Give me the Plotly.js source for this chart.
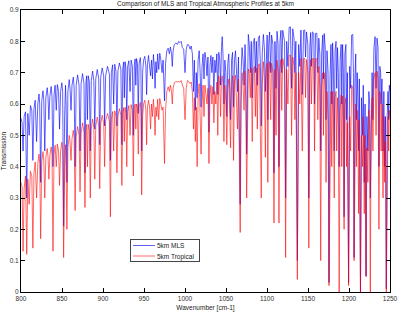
<!DOCTYPE html>
<html>
<head>
<meta charset="utf-8">
<script src="https://cdn.plot.ly/plotly-3.0.1.min.js"></script>
<style>
  html, body { margin: 0; padding: 0; background: #ffffff; }
  #chart { width: 399px; height: 314px; }
</style>
</head>
<body>
<div id="chart"></div>
<script>
// Spectral grid (cm-1) shared by both transmission curves
const wavenumber = [
  800.0, 801.3, 802.5, 803.8, 805.5, 807.0, 808.3, 810.0, 811.5, 813.2,
  814.5, 815.8, 817.3, 819.0, 820.5, 822.0, 822.8, 824.0, 825.3, 826.8,
  827.8, 829.0, 830.3, 832.0, 833.0, 834.0, 835.2, 836.8, 837.8, 839.0,
  840.3, 841.6, 843.0, 844.3, 845.8, 847.0, 848.3, 849.8, 850.8, 852.0,
  853.2, 854.3, 855.0, 856.0, 857.2, 858.8, 859.8, 861.0, 862.2, 863.8,
  864.8, 866.0, 867.3, 869.0, 870.8, 872.0, 873.3, 875.0, 876.8, 878.0,
  879.2, 880.1, 881.0, 882.0, 883.4, 884.5, 885.7, 887.3, 888.8, 890.0,
  891.2, 893.0, 894.8, 896.0, 897.2, 899.0, 900.8, 902.0, 903.2, 905.5,
  907.8, 909.0, 910.2, 911.7, 913.0, 914.3, 915.8, 917.0, 918.2, 920.0,
  921.8, 923.0, 924.2, 925.2, 926.0, 926.9, 927.9, 929.0, 930.1, 931.5,
  933.0, 934.3, 935.8, 937.0, 938.2, 939.2, 940.0, 940.9, 942.0, 943.0,
  944.1, 945.5, 946.2, 947.2, 948.3,
  949.5, 951.0, 952.3, 953.2, 954.2, 955.5, 956.8, 958.0, 959.2, 960.3,
  961.5, 962.6, 963.5, 964.5, 965.6, 966.6, 968.0, 969.2, 970.6, 972.0,
  973.3, 975.0, 976.3, 977.8, 979.5, 981.0, 982.2, 983.6, 984.5, 985.5,
  987.0, 989.0, 990.8, 992.2, 993.8, 995.3, 996.8, 998.4, 1000.0, 1001.5,
  1003.0, 1004.6, 1006.2, 1007.6, 1009.0, 1010.3, 1011.4, 1012.6, 1013.8, 1014.8,
  1016.0, 1017.3, 1018.5, 1019.6, 1020.8, 1022.0, 1023.2, 1024.3, 1025.6, 1026.8,
  1028.0, 1029.2, 1030.4, 1031.6, 1032.8, 1034.0, 1035.2, 1036.4, 1037.6, 1038.8,
  1040.0, 1041.2, 1042.4, 1043.4, 1044.5, 1045.4, 1046.3, 1047.5, 1048.6, 1049.8,
  1051.0, 1052.2, 1053.4, 1054.6, 1055.6, 1056.8, 1058.0, 1059.2, 1060.4, 1061.6,
  1062.8, 1064.0, 1065.2, 1066.2, 1067.3, 1068.4, 1069.6, 1070.8, 1072.0, 1073.2,
  1074.2, 1075.2, 1076.3, 1077.2, 1078.4, 1079.6, 1080.8, 1082.0, 1083.2, 1084.6,
  1085.8, 1087.0, 1088.2, 1089.4, 1090.8, 1092.0, 1093.0, 1094.2, 1095.6, 1096.8,
  1098.0, 1099.2,
  1100.2, 1101.0, 1102.0, 1103.2, 1104.5, 1105.6, 1107.2, 1108.5, 1109.7, 1111.0,
  1112.2, 1113.5, 1114.6, 1115.8, 1117.0, 1118.0, 1119.2, 1121.4, 1122.7, 1124.0,
  1125.5, 1127.0, 1128.6, 1130.0, 1131.4, 1133.0, 1134.0, 1135.2, 1137.0, 1138.6,
  1140.0, 1141.4, 1143.0, 1144.6, 1146.0, 1147.0, 1148.2, 1149.8, 1151.0, 1152.2,
  1153.2, 1154.2, 1155.4, 1157.0, 1158.0, 1159.2, 1160.8, 1162.0, 1163.2, 1164.4,
  1165.5, 1166.6, 1168.0, 1168.8, 1169.8, 1171.0, 1172.0, 1173.2, 1174.5, 1175.6,
  1176.8, 1178.0, 1179.0, 1180.0, 1181.0, 1182.0, 1183.0, 1184.2, 1185.0, 1186.0,
  1187.0, 1188.0, 1189.2, 1190.4, 1191.2, 1192.2, 1193.2, 1194.0, 1195.0, 1196.2,
  1197.0, 1198.0, 1199.5, 1200.8, 1202.0, 1203.2, 1204.6, 1205.4, 1206.2, 1207.2,
  1208.2, 1209.0, 1210.0, 1211.0, 1211.7, 1212.6, 1214.0, 1215.2, 1216.4, 1217.4,
  1218.6, 1219.6, 1220.8, 1221.8, 1223.0, 1224.2, 1225.2, 1226.0, 1227.0, 1228.2,
  1229.2, 1230.4, 1231.8, 1233.0, 1234.2, 1235.4, 1236.5, 1237.6, 1238.6, 1239.2,
  1240.2, 1241.5, 1242.5, 1243.5, 1244.5, 1245.5, 1246.6, 1247.6, 1248.4, 1249.2,
  1250.0
];

// Transmission at 5 km, mid-latitude summer profile
const mls5km = [
  .555,.540,.450,.560,.575,.300,.570,.500,.595,.580,
  .420,.585,.612,.480,.600,.632,.600,.350,.610,.642,
  .610,.450,.620,.652,.620,.550,.625,.656,.625,.400,
  .630,.660,.580,.662,.640,.520,.640,.668,.640,.210,
  .560,.660,.600,.350,.640,.678,.650,.580,.660,.686,
  .650,.400,.660,.693,.660,.450,.665,.697,.665,.380,
  .670,.690,.550,.690,.670,.450,.675,.705,.675,.520,
  .680,.710,.680,.470,.685,.715,.690,.530,.690,.720,
  .695,.420,.700,.725,.600,.727,.705,.530,.705,.731,
  .710,.470,.715,.734,.620,.735,.715,.550,.720,.738,
  .640,.740,.720,.500,.725,.744,.660,.745,.730,.570,
  .730,.748,.720,.450,.700,
  .740,.752,.720,.630,.725,.755,.730,.690,.740,.680,
  .758,.720,.650,.735,.700,.760,.710,.762,.740,.700,
  .740,.610,.730,.770,.778,.760,.782,.760,.720,.770,
  .790,.795,.790,.800,.796,.800,.780,.775,.700,.775,
  .790,.788,.775,.785,.760,.640,.740,.580,.700,.620,
  .740,.770,.700,.590,.720,.760,.680,.765,.740,.690,
  .750,.510,.720,.755,.700,.750,.630,.740,.700,.760,
  .630,.765,.740,.660,.780,.815,.760,.600,.740,.700,
  .560,.730,.760,.650,.550,.740,.765,.590,.740,.770,
  .700,.640,.750,.560,.280,.700,.780,.740,.660,.790,
  .700,.440,.760,.822,.790,.700,.800,.620,.790,.810,
  .700,.800,.660,.810,.818,.720,.530,.760,.822,.780,
  .640,.800,
  .820,.550,.790,.830,.700,.820,.790,.380,.800,.650,
  .832,.790,.400,.800,.835,.700,.835,.800,.300,.800,
  .720,.845,.846,.650,.840,.810,.700,.800,.100,.790,
  .720,.836,.630,.835,.836,.750,.830,.790,.300,.780,
  .828,.720,.830,.826,.600,.825,.826,.700,.810,.760,
  .450,.760,.820,.680,.825,.780,.550,.770,.700,.030,
  .680,.790,.600,.795,.720,.450,.770,.800,.650,.780,
  .700,.400,.740,.790,.600,.790,.700,.240,.760,.790,
  .550,.700,.030,.720,.650,.820,.822,.700,.110,.680,
  .760,.550,.700,.600,.450,.680,.000,.620,.500,.660,
  .350,.600,.050,.560,.450,.640,.600,.300,.600,.700,
  .550,.780,.815,.650,.810,.780,.400,.720,.700,.600,
  .680,.450,.640,.400,.560,.010,.560,.640,.550,.660,
  .640
];

// Transmission at 5 km, tropical profile
const tropical5km = [
  .350,.335,.130,.330,.370,.120,.360,.280,.385,.370,
  .140,.380,.415,.300,.410,.440,.410,.170,.415,.448,
  .420,.300,.430,.458,.430,.360,.435,.463,.440,.130,
  .440,.468,.400,.472,.450,.340,.450,.478,.450,.110,
  .380,.470,.400,.200,.460,.500,.480,.420,.490,.516,
  .490,.260,.495,.528,.500,.320,.505,.540,.510,.270,
  .515,.535,.400,.535,.515,.300,.520,.552,.525,.360,
  .530,.558,.530,.330,.535,.564,.540,.400,.545,.570,
  .545,.240,.550,.576,.450,.578,.560,.380,.560,.585,
  .565,.340,.570,.588,.480,.590,.570,.400,.575,.595,
  .500,.598,.580,.370,.585,.600,.520,.600,.590,.440,
  .590,.605,.580,.310,.560,
  .600,.612,.580,.470,.590,.612,.590,.520,.600,.560,
  .615,.570,.500,.590,.560,.615,.550,.618,.600,.580,
  .590,.410,.580,.640,.655,.640,.660,.640,.600,.650,
  .668,.672,.670,.672,.670,.675,.660,.650,.550,.650,
  .675,.672,.665,.670,.640,.520,.620,.480,.590,.400,
  .630,.665,.560,.440,.600,.660,.560,.660,.630,.600,
  .650,.410,.620,.660,.600,.655,.540,.640,.600,.670,
  .500,.690,.660,.560,.680,.690,.660,.480,.660,.610,
  .470,.650,.680,.560,.460,.660,.690,.420,.670,.692,
  .620,.520,.680,.420,.190,.600,.700,.660,.580,.705,
  .600,.300,.680,.712,.700,.620,.715,.480,.705,.720,
  .560,.715,.520,.725,.728,.560,.300,.660,.735,.680,
  .430,.720,
  .730,.350,.700,.735,.550,.730,.700,.220,.710,.500,
  .740,.700,.220,.710,.742,.580,.745,.710,.110,.710,
  .600,.755,.756,.500,.750,.720,.550,.700,.040,.700,
  .600,.745,.450,.745,.746,.620,.742,.700,.140,.690,
  .742,.600,.745,.745,.450,.744,.745,.550,.720,.650,
  .100,.650,.700,.500,.700,.650,.350,.640,.550,.020,
  .520,.640,.400,.640,.560,.300,.620,.640,.450,.620,
  .520,.000,.580,.630,.400,.625,.540,.200,.600,.620,
  .400,.540,.020,.560,.450,.660,.650,.520,.100,.520,
  .600,.400,.580,.450,.250,.550,.000,.500,.400,.560,
  .250,.500,.050,.460,.350,.580,.520,.000,.540,.620,
  .450,.680,.700,.500,.705,.680,.200,.640,.620,.450,
  .600,.300,.560,.350,.480,.000,.480,.560,.450,.580,
  .560
];

const seriesNames = ['5km MLS', '5km Tropical'];
const xTickValues = [800, 850, 900, 950, 1000, 1050, 1100, 1150, 1200, 1250];
const yTickValues = [0, 0.1, 0.2, 0.3, 0.4, 0.5, 0.6, 0.7, 0.8, 0.9];
const yTickLabels = ['0', '0.1', '0.2', '0.3', '0.4', '0.5', '0.6', '0.7', '0.8', '0.9'];

const fontFamily = 'Liberation Sans, Arial, Helvetica, sans-serif';

const traces = [
  {
    x: wavenumber, y: mls5km, name: seriesNames[0],
    type: 'scatter', mode: 'lines',
    line: { color: 'rgba(0,0,255,0.62)', width: 1 }
  },
  {
    x: wavenumber, y: tropical5km, name: seriesNames[1],
    type: 'scatter', mode: 'lines',
    line: { color: 'rgba(255,0,0,0.58)', width: 1 }
  }
];

const axisCommon = {
  showgrid: false, zeroline: false,
  showline: true, linecolor: '#000', linewidth: 1, mirror: 'ticks',
  ticks: 'inside', ticklen: 4, tickwidth: 1, tickcolor: '#000',
  tickfont: { family: fontFamily, size: 6.5, color: '#333' }
};

const layout = {
  width: 399, height: 314,
  margin: { l: 21, r: 9, t: 10, b: 22, pad: 0 },
  paper_bgcolor: '#ffffff', plot_bgcolor: '#ffffff',
  font: { family: fontFamily, size: 6.5, color: '#333' },
  title: {
    text: 'Comparison of MLS and Tropical Atmospheric Profiles at 5km',
    font: { family: fontFamily, size: 6.5, color: '#222' },
    x: 0.515, xanchor: 'center', xref: 'container',
    y: 0.987, yanchor: 'middle', yref: 'container'
  },
  xaxis: Object.assign({}, axisCommon, {
    range: [800, 1250],
    tickmode: 'array', tickvals: xTickValues,
    title: { text: 'Wavenumber [cm-1]', font: { family: fontFamily, size: 6.5, color: '#222' }, standoff: 4 }
  }),
  yaxis: Object.assign({}, axisCommon, {
    range: [0, 0.9],
    tickmode: 'array', tickvals: yTickValues, ticktext: yTickLabels,
    title: { text: 'Transmission', font: { family: fontFamily, size: 6.5, color: '#222' }, standoff: 2 }
  }),
  showlegend: true,
  legend: {
    x: 0.295, y: 0.188, xanchor: 'left', yanchor: 'top',
    bgcolor: '#ffffff', bordercolor: '#444', borderwidth: 1,
    font: { family: fontFamily, size: 6.5, color: '#222' },
    tracegroupgap: 0, itemwidth: 30
  }
};

// Compact legend box: short sample lines and tight rows, placed inside the axes
function compactLegend(gd) {
  const legend = gd.querySelector('.legend');
  if (!legend) return;
  const boxLeft = 130, boxTop = 239, boxW = 69, boxH = 22;
  legend.setAttribute('transform', 'translate(' + boxLeft + ',' + boxTop + ')');
  const bg = legend.querySelector('rect.bg');
  if (bg) {
    bg.setAttribute('x', 0.5); bg.setAttribute('y', 0.5);
    bg.setAttribute('width', boxW); bg.setAttribute('height', boxH);
  }
  const scroll = legend.querySelector('.scrollbox');
  if (scroll) scroll.setAttribute('transform', 'translate(0,0)');
  legend.querySelectorAll('.traces').forEach(function (g, i) {
    g.setAttribute('transform', 'translate(0,' + (6.5 + i * 10.5) + ')');
    g.querySelectorAll('.legendlines path').forEach(function (p) { p.setAttribute('d', 'M3,0h22'); });
    const t = g.querySelector('text.legendtext');
    if (t) t.setAttribute('x', 27);
  });
}

Plotly.newPlot('chart', traces, layout, { displayModeBar: false, staticPlot: true })
  .then(compactLegend);
</script>
</body>
</html>
